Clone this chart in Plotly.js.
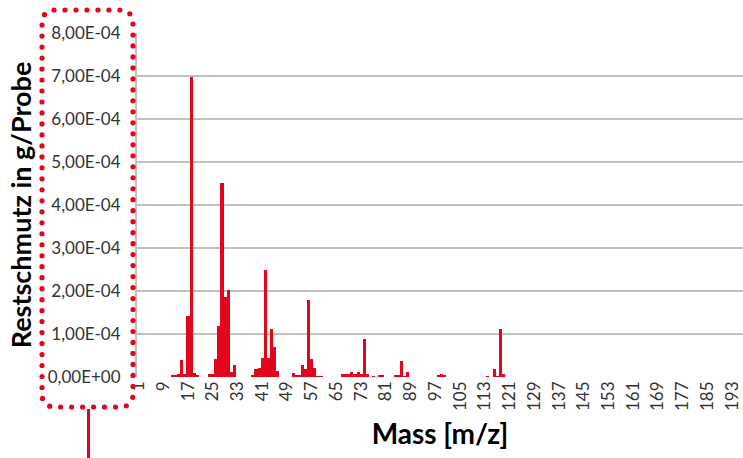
<!DOCTYPE html>
<html>
<head>
<meta charset="utf-8">
<script src="https://cdn.plot.ly/plotly-3.0.1.min.js"></script>
<style>html,body{margin:0;padding:0;background:#fff;}#chart{width:743px;height:458px;}</style>
</head>
<body>
<div id="chart"></div>
<script>
// Mass numbers (m/z) with non-zero residue values
const massNumbers = [12,13,14,15,16,17,18,19,20,24,25,26,27,28,29,30,31,32,
  38,39,40,41,42,43,44,45,46,51,52,53,54,55,56,57,58,59,60,
  67,68,69,70,71,72,73,74,75,77,79,80,84,85,86,87,88,98,99,100,114,116,117,118,119];
// Residue in g/sample (units of 1e-4)
const residueE4 = [0.05,0.05,0.06,0.40,0.08,1.42,6.97,0.10,0.04,0.06,0.07,0.43,1.19,4.52,1.86,2.02,0.12,0.28,
  0.04,0.19,0.22,0.45,2.49,0.45,1.12,0.69,0.14,0.10,0.04,0.04,0.28,0.19,1.79,0.42,0.22,0.02,0.02,
  0.07,0.07,0.07,0.12,0.07,0.12,0.07,0.88,0.07,0.02,0.04,0.04,0.04,0.05,0.37,0.03,0.11,0.05,0.08,0.05,0.02,0.18,0.02,1.11,0.07];
const massMax = 196;
const xTickVals = [1,9,17,25,33,41,49,57,65,73,81,89,97,105,113,121,129,137,145,153,161,169,177,185,193];
const yTickVals = [0,1e-4,2e-4,3e-4,4e-4,5e-4,6e-4,7e-4,8e-4];
const yTickText = ['0,00E+00','1,00E-04','2,00E-04','3,00E-04','4,00E-04','5,00E-04','6,00E-04','7,00E-04','8,00E-04'];

const W = 743, H = 458, ML = 137, MR = 0, MT = 33, MB = 81;
const PW = W - ML - MR, PH = H - MT - MB;
const RED = '#E3051B';
const px2x = p => (p - ML) / PW;
const py2y = p => (H - MB - p) / PH;

// dotted rounded frame around y tick labels (decoration)
function roundedRectPoints(x0, y0, x1, y1, r, step) {
  const w = x1 - x0, h = y1 - y0;
  const pieces = [
    {len: w - 2*r, f: t => [x0 + r + t, y0]},
    {len: Math.PI*r/2, f: t => { const a = -Math.PI/2 + t/r; return [x1 - r + r*Math.cos(a), y0 + r + r*Math.sin(a)]; }},
    {len: h - 2*r, f: t => [x1, y0 + r + t]},
    {len: Math.PI*r/2, f: t => { const a = t/r; return [x1 - r + r*Math.cos(a), y1 - r + r*Math.sin(a)]; }},
    {len: w - 2*r, f: t => [x1 - r - t, y1]},
    {len: Math.PI*r/2, f: t => { const a = Math.PI/2 + t/r; return [x0 + r + r*Math.cos(a), y1 - r + r*Math.sin(a)]; }},
    {len: h - 2*r, f: t => [x0, y1 - r - t]},
    {len: Math.PI*r/2, f: t => { const a = Math.PI + t/r; return [x0 + r + r*Math.cos(a), y0 + r + r*Math.sin(a)]; }}
  ];
  const total = pieces.reduce((s, p) => s + p.len, 0);
  const n = Math.round(total / step);
  const st = total / n;
  const pts = [];
  for (let i = 0; i < n; i++) {
    let d = i * st;
    for (const p of pieces) {
      if (d <= p.len) { pts.push(p.f(d)); break; }
      d -= p.len;
    }
  }
  return pts;
}
const shapes = roundedRectPoints(42, 10, 133, 407, 12, 11).map(([px, py]) => ({
  type: 'circle', xref: 'paper', yref: 'paper', xsizemode: 'pixel', ysizemode: 'pixel',
  xanchor: px2x(px), yanchor: py2y(py), x0: -2.6, x1: 2.6, y0: -2.6, y1: 2.6,
  fillcolor: RED, line: {width: 0}
}));
shapes.push({type: 'line', xref: 'paper', yref: 'paper', x0: px2x(88.5), x1: px2x(88.5),
  y0: py2y(409), y1: py2y(462), line: {color: RED, width: 3}});

const trace = {
  type: 'bar',
  x: massNumbers,
  y: residueE4.map(v => v * 1e-4),
  marker: {color: RED, line: {width: 0}},
  hoverinfo: 'x+y'
};

const layout = {
  width: W, height: H,
  margin: {l: ML, r: MR, t: MT, b: MB, pad: 0},
  paper_bgcolor: '#fff', plot_bgcolor: '#fff',
  showlegend: false,
  bargap: 0,
  font: {family: 'Lato, "Open Sans", sans-serif', color: '#333'},
  xaxis: {
    range: [0.5, massMax + 0.5],
    tickmode: 'array', tickvals: xTickVals, ticktext: xTickVals.map(String),
    tickangle: -90, tickfont: {size: 17, color: '#333'},
    ticks: '', showgrid: false, zeroline: false,
    showline: false,
    title: {text: 'Mass [m/z]', font: {size: 28, color: '#000', weight: 'bold'}, standoff: 14}
  },
  yaxis: {
    range: [0, 8e-4],
    tickmode: 'array', tickvals: yTickVals, ticktext: yTickText,
    tickfont: {size: 17, color: '#333'},
    ticks: '', ticklabelstandoff: 11,
    showgrid: true, gridcolor: '#C0C0C0', gridwidth: 1.4,
    zeroline: false,
    showline: true, linecolor: '#C0C0C0', linewidth: 2,
    title: {text: 'Restschmutz in g/Probe', font: {size: 27, color: '#000', weight: 'bold'}, standoff: 8}
  },
  shapes: shapes
};

Plotly.newPlot('chart', [trace], layout, {displayModeBar: false, staticPlot: true});
</script>
</body>
</html>
